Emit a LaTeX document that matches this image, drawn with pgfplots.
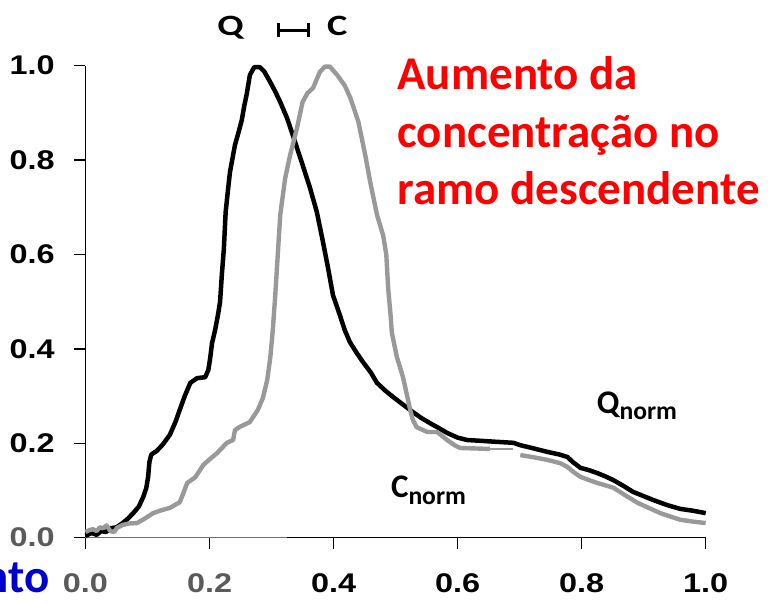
\documentclass[border=0pt]{standalone}
\usepackage{pgfplots}
\pgfplotsset{compat=1.18}
\usepackage{fontspec}
\setmainfont{Carlito}
\newfontfamily\wideCal[FakeStretch=1.3]{Carlito}
\newfontfamily\tickfont[FakeStretch=1.2]{Liberation Sans}
\definecolor{cgray}{RGB}{153,153,153}
\definecolor{lblgray}{RGB}{90,90,90}
\definecolor{axgray}{RGB}{110,110,110}
\definecolor{nblue}{RGB}{0,0,204}

\begin{document}
\begin{tikzpicture}
\begin{axis}[
  scale only axis,
  width=310.1pt, height=236pt,
  xmin=0, xmax=1, ymin=0, ymax=1,
  clip=false,
  axis x line*=bottom, axis y line*=left,
  axis line style={line width=0.65pt, -},
  tick align=outside,
  major tick length=5.5pt,
  tick style={line width=0.65pt, black},
  xtick={0,0.2,0.4,0.6,0.8,1.0},
  ytick={0,0.2,0.4,0.6,0.8,1.0},
  xticklabels={\textcolor{lblgray}{0.0},\textcolor{lblgray}{0.2},0.4,0.6,0.8,1.0},
  yticklabels={\textcolor{lblgray}{0.0},0.2,0.4,0.6,0.8,1.0},
  ticklabel style={font=\tickfont\bfseries\fontsize{13.5}{13.5}\selectfont, inner sep=0pt},
  xticklabel style={anchor=base, yshift=-22.15pt},
  yticklabel style={anchor=east, xshift=-9.75pt},
]
% left part of the horizontal axis drawn in grey
\draw[axgray, line width=0.7pt] (axis cs:0,0) -- (axis cs:0.325,0);

% normalised flow rate Q
\addplot[black, line width=2.25pt, line join=round, no markers] coordinates {
(0.000,0.004)(0.010,0.010)(0.018,0.006)(0.025,0.014)(0.033,0.012)(0.040,0.020)
(0.050,0.022)(0.060,0.031)(0.068,0.040)(0.077,0.052)(0.086,0.066)(0.093,0.086)
(0.098,0.105)(0.101,0.129)(0.103,0.160)(0.106,0.176)(0.115,0.184)(0.125,0.198)
(0.136,0.218)(0.145,0.245)(0.152,0.271)(0.160,0.300)(0.169,0.328)(0.180,0.338)
(0.193,0.340)(0.198,0.355)(0.201,0.380)(0.204,0.412)(0.209,0.440)(0.214,0.475)
(0.217,0.500)(0.220,0.560)(0.223,0.610)(0.226,0.690)(0.230,0.740)(0.233,0.775)
(0.241,0.832)(0.247,0.860)(0.252,0.885)(0.256,0.915)(0.260,0.940)(0.265,0.980)
(0.272,0.997)(0.281,0.997)(0.288,0.988)(0.298,0.965)(0.306,0.945)(0.314,0.923)
(0.325,0.889)(0.338,0.838)(0.350,0.790)(0.362,0.741)(0.373,0.690)(0.383,0.626)
(0.391,0.572)(0.399,0.514)(0.410,0.472)(0.418,0.440)(0.426,0.415)(0.437,0.392)
(0.448,0.371)(0.460,0.350)(0.470,0.328)(0.483,0.312)(0.496,0.298)(0.512,0.282)
(0.528,0.266)(0.541,0.254)(0.555,0.243)(0.570,0.232)(0.583,0.222)(0.600,0.212)
(0.615,0.207)(0.640,0.205)(0.664,0.203)(0.690,0.201)(0.701,0.196)(0.720,0.190)
(0.744,0.182)(0.765,0.176)(0.777,0.171)(0.786,0.160)(0.798,0.148)(0.812,0.143)
(0.825,0.137)(0.838,0.130)(0.851,0.122)(0.867,0.110)(0.883,0.097)(0.900,0.088)
(0.915,0.080)(0.938,0.069)(0.959,0.061)(0.980,0.057)(1.000,0.052)
};

% normalised concentration C
\addplot[cgray, line width=2.2pt, line join=round, no markers] coordinates {
(0.000,0.012)(0.006,0.016)(0.012,0.018)(0.018,0.014)(0.023,0.022)(0.028,0.020)
(0.034,0.026)(0.040,0.014)(0.046,0.012)(0.051,0.021)(0.060,0.027)(0.070,0.030)
(0.083,0.031)(0.095,0.040)(0.109,0.052)(0.122,0.058)(0.136,0.063)(0.145,0.070)
(0.152,0.075)(0.158,0.095)(0.164,0.116)(0.177,0.128)(0.190,0.154)(0.200,0.166)
(0.212,0.179)(0.228,0.201)(0.238,0.207)(0.241,0.228)(0.249,0.235)(0.265,0.245)
(0.278,0.271)(0.286,0.296)(0.293,0.334)(0.298,0.382)(0.302,0.440)(0.306,0.514)
(0.310,0.599)(0.314,0.684)(0.322,0.762)(0.330,0.811)(0.341,0.868)(0.350,0.923)
(0.358,0.942)(0.367,0.953)(0.378,0.987)(0.386,0.998)(0.394,0.998)(0.406,0.980)
(0.418,0.958)(0.427,0.932)(0.440,0.881)(0.451,0.811)(0.459,0.754)(0.470,0.684)
(0.480,0.640)(0.485,0.600)(0.488,0.529)(0.492,0.470)(0.494,0.434)(0.502,0.383)
(0.512,0.340)(0.520,0.292)(0.524,0.268)(0.528,0.249)(0.534,0.234)(0.551,0.224)
(0.567,0.224)(0.583,0.207)(0.595,0.196)(0.604,0.190)(0.630,0.189)(0.652,0.188)
};
\addplot[cgray, line width=0.8pt, no markers] coordinates {
(0.652,0.188)(0.690,0.188)
};
\addplot[cgray, line width=2.2pt, line join=round, no markers] coordinates {
(0.701,0.175)(0.720,0.171)(0.744,0.165)(0.765,0.158)(0.777,0.150)(0.787,0.139)
(0.798,0.129)(0.812,0.122)(0.825,0.116)(0.838,0.111)(0.851,0.106)(0.870,0.090)
(0.890,0.074)(0.910,0.062)(0.927,0.052)(0.945,0.044)(0.959,0.038)(0.980,0.034)
(1.000,0.031)
};

% peak labels and the lag between them
\node[anchor=base, inner sep=0pt, font=\wideCal\bfseries\fontsize{14.75}{14.75}\selectfont]
  at (axis cs:0.234,1.065) {Q};
\node[anchor=base, inner sep=0pt, font=\wideCal\bfseries\fontsize{14.75}{14.75}\selectfont]
  at (axis cs:0.406,1.065) {C};
\draw[black, line width=1.5pt] (axis cs:0.3105,1.0756) -- (axis cs:0.3589,1.0756);
\draw[black, line width=1.5pt] (axis cs:0.3105,1.0608) -- (axis cs:0.3105,1.0904);
\draw[black, line width=1.5pt] (axis cs:0.3589,1.0608) -- (axis cs:0.3589,1.0904);

% series labels
\node[anchor=base west, inner sep=0pt, font=\bfseries\fontsize{16.5}{16.5}\selectfont]
  at (axis cs:0.824,0.264) {Q\raisebox{-3pt}{\fontsize{12.8}{12.8}\selectfont norm}};
\node[anchor=base west, inner sep=0pt, font=\bfseries\fontsize{16.5}{16.5}\selectfont]
  at (axis cs:0.492,0.0862) {C\raisebox{-3.5pt}{\fontsize{12.8}{12.8}\selectfont norm}};

% annotation (anchored at the baseline of its last line)
\node[anchor=base west, inner sep=0pt, align=left, text=red,
      font=\bfseries\fontsize{23.5}{28.75}\selectfont]
  at (axis cs:0.5024,0.705) {Aumento da\\concentração no\\ramo descendente};
\node[anchor=base east, inner sep=0pt, text=nblue,
      font=\bfseries\fontsize{23.5}{28.75}\selectfont]
  at (axis cs:-0.0573,-0.117) {Aumento};
\end{axis}
\pgfresetboundingbox
\path[use as bounding box] (-42.75pt,-32.65pt) rectangle (341.25pt,268.85pt);
\end{tikzpicture}
\end{document}
